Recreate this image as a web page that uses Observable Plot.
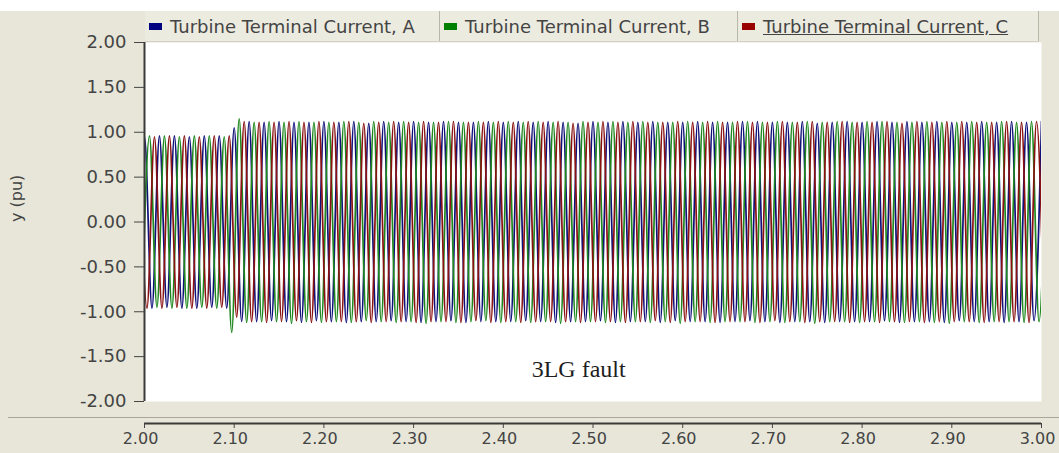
<!DOCTYPE html>
<html><head><meta charset="utf-8">
<script src="https://cdn.jsdelivr.net/npm/d3@7"></script>
<script src="https://cdn.jsdelivr.net/npm/@observablehq/plot@0.6"></script>
<style>
body{margin:0;background:#fff;}
#page{position:relative;width:1059px;height:453px;background:linear-gradient(#fff 0px,#fff 11px,#e7e6d9 11px);overflow:hidden;font-family:"DejaVu Sans",sans-serif;}
#legend{position:absolute;top:11px;left:145px;width:894px;height:30px;display:flex;background:#ecebe0;border-bottom:1px solid #d3d1c3;z-index:2;}
.cell{box-sizing:border-box;height:30px;display:flex;align-items:center;border-right:1px solid #b9b7a8;padding-left:4px;font-size:18px;color:#444;white-space:nowrap;}
.sw{width:13px;height:7px;margin-right:8px;flex:none;}
#main{position:absolute;top:0;left:0;}
#sep{position:absolute;top:417px;left:8px;right:0;border-top:1px solid #a9a79a;}
#xaxis{position:absolute;top:418px;left:0;}
</style></head>
<body>
<div id="page">
  <div id="legend"></div>
  <div id="main"></div>
  <div id="sep"></div>
  <div id="xaxis"></div>
</div>
<script>
// ---- data ----
const seriesNames = ["Turbine Terminal Current, A", "Turbine Terminal Current, B", "Turbine Terminal Current, C"];
const seriesColors = ["#10107a", "#1d861d", "#8a1212"];
const swatchColors = ["#000080", "#008000", "#990000"];
const halfPeriod = 1 / 120;            // 60 Hz -> extrema every 1/120 s
const extremaStart = [1.991667, 1.997222, 1.994444]; // time of first listed extremum, A/B/C

// successive peak / trough values (pu)
const valuesA = [
  -0.96, 0.95, -0.96, 0.96, -0.95, 0.96, -0.96, 0.95, -0.96, 0.96, -0.95, 0.96, -0.96, 1.05,
  -1.11, 1.12, -1.11, 1.11, -1.10, 1.12, -1.11, 1.11, -1.12, 1.11, -1.10, 1.12,
  -1.11, 1.11, -1.12, 1.12, -1.11, 1.10, -1.11, 1.12, -1.10, 1.11, -1.11, 1.12,
  -1.12, 1.11, -1.11, 1.12, -1.10, 1.11, -1.12, 1.11, -1.11, 1.12, -1.11, 1.11,
  -1.11, 1.12, -1.10, 1.11, -1.11, 1.12, -1.12, 1.11, -1.11, 1.10, -1.11, 1.12,
  -1.10, 1.11, -1.12, 1.12, -1.11, 1.11, -1.11, 1.12, -1.12, 1.11, -1.10, 1.11,
  -1.11, 1.12, -1.11, 1.11, -1.12, 1.11, -1.11, 1.12, -1.10, 1.12, -1.11, 1.11,
  -1.12, 1.11, -1.11, 1.12, -1.11, 1.10, -1.12, 1.11, -1.11, 1.12, -1.11, 1.11,
  -1.11, 1.12, -1.10, 1.11, -1.12, 1.12, -1.11, 1.11, -1.11, 1.12, -1.12, 1.11,
  -1.10, 1.11, -1.11, 1.12, -1.11, 1.11, -1.12, 1.12, -1.11, 1.11, -1.10, 1.12
];
const valuesB = [
  -0.96, 0.96, -0.95, 0.96, -0.96, 0.95, -0.96, 0.96, -0.95, 0.96, -0.96, 0.95, -1.23, 1.15,
  -1.12, 1.11, -1.11, 1.12, -1.11, 1.11, -1.13, 1.12, -1.11, 1.11, -1.12, 1.11,
  -1.11, 1.12, -1.12, 1.11, -1.10, 1.12, -1.11, 1.11, -1.12, 1.12, -1.11, 1.11,
  -1.13, 1.11, -1.11, 1.12, -1.12, 1.11, -1.11, 1.12, -1.10, 1.11, -1.12, 1.12,
  -1.11, 1.11, -1.12, 1.12, -1.11, 1.11, -1.13, 1.11, -1.11, 1.12, -1.11, 1.11,
  -1.12, 1.12, -1.11, 1.11, -1.11, 1.12, -1.12, 1.11, -1.11, 1.11, -1.13, 1.12,
  -1.11, 1.11, -1.12, 1.12, -1.11, 1.11, -1.11, 1.12, -1.12, 1.11, -1.11, 1.12,
  -1.12, 1.11, -1.11, 1.12, -1.13, 1.11, -1.11, 1.12, -1.11, 1.11, -1.12, 1.12,
  -1.11, 1.12, -1.11, 1.11, -1.12, 1.11, -1.11, 1.12, -1.12, 1.11, -1.13, 1.11,
  -1.11, 1.12, -1.12, 1.11, -1.11, 1.12, -1.11, 1.11, -1.12, 1.12, -1.11, 1.11
];
const valuesC = [
  0.96, -0.96, 0.95, -0.96, 0.96, -0.95, 0.96, -0.96, 0.95, -0.96, 0.96, -0.95, 0.96, -1.06,
  1.12, -1.11, 1.11, -1.12, 1.11, -1.11, 1.12, -1.10, 1.11, -1.12, 1.12, -1.11,
  1.11, -1.11, 1.12, -1.11, 1.10, -1.12, 1.11, -1.11, 1.12, -1.11, 1.11, -1.12,
  1.12, -1.11, 1.11, -1.11, 1.12, -1.12, 1.11, -1.10, 1.11, -1.12, 1.12, -1.11,
  1.11, -1.12, 1.12, -1.11, 1.11, -1.11, 1.12, -1.11, 1.10, -1.12, 1.11, -1.11,
  1.12, -1.11, 1.11, -1.12, 1.12, -1.11, 1.11, -1.10, 1.11, -1.12, 1.12, -1.11,
  1.11, -1.11, 1.12, -1.12, 1.11, -1.11, 1.12, -1.11, 1.11, -1.12, 1.11, -1.10,
  1.12, -1.11, 1.11, -1.12, 1.12, -1.11, 1.11, -1.11, 1.12, -1.12, 1.11, -1.11,
  1.11, -1.12, 1.12, -1.11, 1.10, -1.11, 1.12, -1.12, 1.11, -1.11, 1.12, -1.11,
  1.12, -1.11, 1.11, -1.12, 1.11, -1.11, 1.12, -1.11, 1.11, -1.12, 1.12, -1.11
];
const xTicks = [2.0, 2.1, 2.2, 2.3, 2.4, 2.5, 2.6, 2.7, 2.8, 2.9, 3.0];
const yTicks = [-2, -1.5, -1, -0.5, 0, 0.5, 1, 1.5, 2];
const yLabel = "y (pu)";
const annotation = [{t: 2.484, v: -1.64, label: "3LG fault"}];

// ---- build tables ----
const allValues = [valuesA, valuesB, valuesC];
const tables = allValues.map((vals, s) =>
  vals.map((v, i) => ({t: extremaStart[s] + i * halfPeriod, v})));

// ---- legend ----
const legend = document.getElementById("legend");
const cellWidths = [295, 298, 301];
seriesNames.forEach((name, i) => {
  const c = document.createElement("div");
  c.className = "cell";
  c.style.width = cellWidths[i] + "px";
  const sw = document.createElement("span");
  sw.className = "sw";
  sw.style.background = swatchColors[i];
  const tx = document.createElement("span");
  tx.textContent = name;
  if (i === 2) { tx.style.textDecoration = "underline"; }
  c.appendChild(sw); c.appendChild(tx);
  legend.appendChild(c);
});

const fmt = d => d.toFixed(2);
const baseStyle = {background: "transparent", color: "#444", fontFamily: "DejaVu Sans, sans-serif", overflow: "visible"};

const main = Plot.plot({
  width: 1059, height: 417,
  marginTop: 42, marginBottom: 16, marginLeft: 144, marginRight: 18,
  x: {domain: [2, 3], axis: null},
  y: {domain: [-2, 2], axis: null},
  style: baseStyle,
  marks: [
    Plot.frame({fill: "white", stroke: "none"}),
    ...tables.map((tab, s) => Plot.line(tab, {x: "t", y: "v", stroke: seriesColors[s], strokeWidth: 1.7, curve: "monotone-x", clip: true})),
    Plot.text(annotation, {x: "t", y: "v", text: "label", fontFamily: "Liberation Serif, serif", fontSize: 24, fill: "#1e1e1e"}),
    Plot.ruleX([2], {stroke: "#3a3a3a", strokeWidth: 2}),
    Plot.axisY(yTicks, {tickFormat: fmt, tickSize: 10, tickPadding: 8, fontSize: 18, label: null}),
    Plot.text([yLabel], {text: d => d, frameAnchor: "left", dx: -128, rotate: -90, fontSize: 16, fill: "#444"})
  ]
});
document.getElementById("main").appendChild(main);

const xa = Plot.plot({
  width: 1059, height: 35,
  marginTop: 0, marginBottom: 30, marginLeft: 144, marginRight: 18,
  x: {domain: [2, 3], axis: null},
  y: {domain: [0, 1], axis: null},
  style: baseStyle,
  marks: [
    Plot.ruleY([0], {stroke: "#3a3a3a", strokeWidth: 2}),
    Plot.axisX(xTicks, {tickSize: 5, tickFormat: () => "", label: null}),
    Plot.axisX(xTicks, {tickSize: 0, tickPadding: 9, dx: -4, tickFormat: fmt, fontSize: 16, label: null})
  ]
});
document.getElementById("xaxis").appendChild(xa);
</script>
</body></html>
